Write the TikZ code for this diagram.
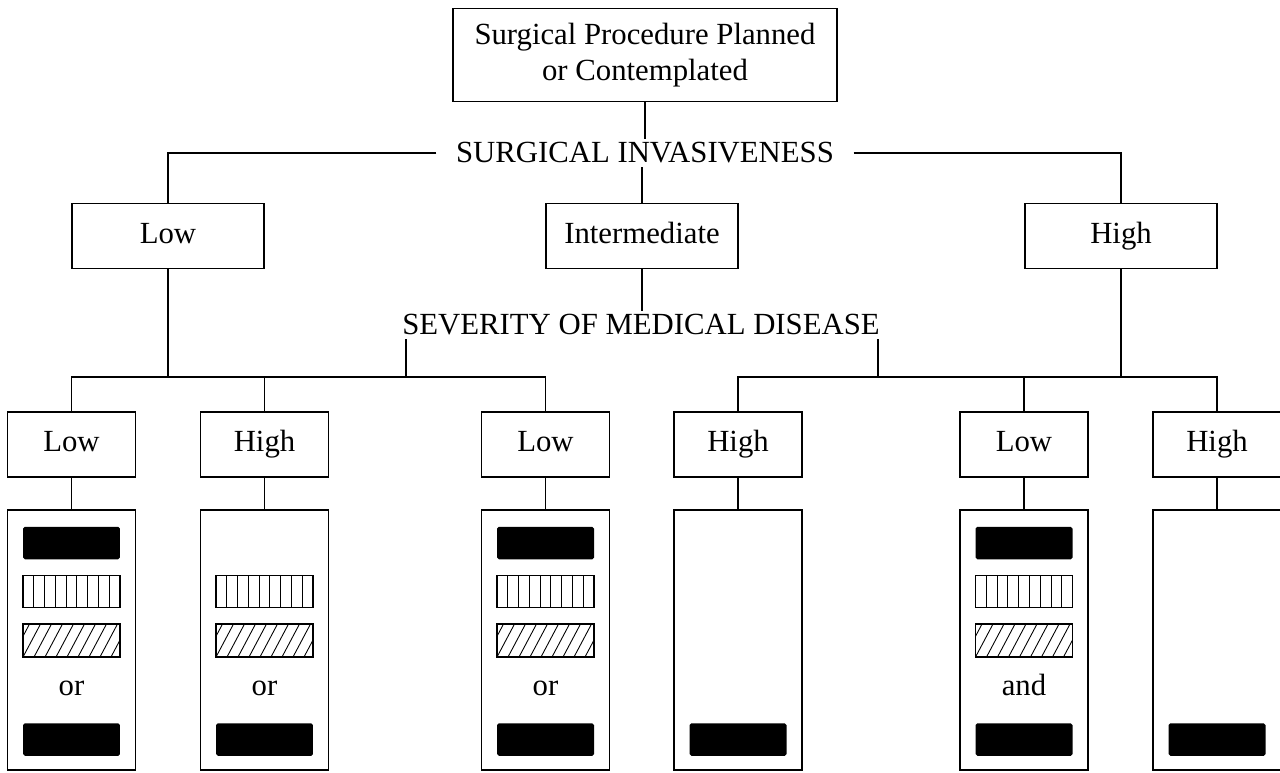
\documentclass[tikz,border=0pt]{standalone}
\usepackage{fontspec}
\setmainfont{Liberation Serif}
\usetikzlibrary{positioning}

\tikzset{
  box/.style={draw, line width=0.8pt, inner sep=0pt, text height=12pt, text depth=3.5pt, minimum width=3.84cm, minimum height=1.3cm},
  smallbox/.style={box, minimum width=2.56cm},
  stack/.style={smallbox, minimum height=5.2cm},
  blk/.style={fill=black, rounded corners=1pt, inner sep=0pt, minimum width=1.94cm, minimum height=0.65cm},
  stripes/.style={draw, line width=0.6pt, inner sep=0pt, minimum width=1.94cm, minimum height=0.63cm,
    path picture={\foreach \k in {1,...,8}
      \draw[line width=0.5pt] ([xshift=\k*0.2156cm]path picture bounding box.south west) -- ++(0pt,0.7cm);}},
  hatch/.style={draw, line width=0.6pt, inner sep=0pt, minimum width=1.94cm, minimum height=0.66cm,
    path picture={\foreach \k in {-2,...,9}
      \draw[line width=0.5pt] ([xshift=\k*0.22cm]path picture bounding box.south west) -- ++(0.35cm,0.66cm);}},
  heading/.style={inner ysep=2pt, inner xsep=11pt},
  word/.style={text height=12pt, text depth=3.5pt, inner sep=0pt}
}

\begin{document}
\begin{tikzpicture}[x=0.02cm, y=-0.02cm, font=\fontsize{17.5}{20.5}\selectfont]
	\useasboundingbox (0,0) rectangle (1280,772);
	% top and first split
	\node[box, minimum width=7.68cm, minimum height=1.86cm, align=center, text height=, text depth=] (top) at (645,55) {Surgical Procedure Planned\\or Contemplated};
	\node[heading] (inv) at (645,153) {SURGICAL INVASIVENESS};
	\node[box] (lowA) at (168,236) {Low};
	\node[box] (inter) at (642,236) {Intermediate};
	\node[box] (highA) at (1121,236) {High};
	\node[heading] (sev) at (641,325) {SEVERITY OF MEDICAL DISEASE};
	\coordinate (jl) at (406,377);
	\coordinate (jr) at (878,377);
	% second split
	\foreach \cx/\n/\t in {71.5/1/Low, 264.5/2/High, 545.5/3/Low, 738/4/High, 1024/5/Low, 1217/6/High} {
		\node[smallbox] (b\n) at (\cx,444.5) {\t};
		\node[stack] (s\n) at (\cx,640) {};
		\draw[line width=0.8pt] (b\n.south) -- (s\n.north);
	}
	\draw[line width=0.8pt] (top.south) -- (inv.north);
	\draw[line width=0.8pt] (inv.west) -| (lowA.north);
	\draw[line width=0.8pt] (inv.east) -| (highA.north);
	\draw[line width=0.8pt] (inv.south -| inter.north) -- (inter.north);
	\draw[line width=0.8pt] (inter.south) -- (inter.south |- sev.north);
	\draw[line width=0.8pt] (jl |- sev.south) -- (jl);
	\draw[line width=0.8pt] (jr |- sev.south) -- (jr);
	\draw[line width=0.8pt] (lowA.south) -- (lowA.south |- jl);
	\draw[line width=0.8pt] (highA.south) -- (highA.south |- jr);
	\draw[line width=0.8pt] (b1.north) -- (b1.north |- jl) -- (b3.north |- jl) -- (b3.north);
	\draw[line width=0.8pt] (b2.north) -- (b2.north |- jl);
	\draw[line width=0.8pt] (b4.north) -- (b4.north |- jr) -- (b6.north |- jr) -- (b6.north);
	\draw[line width=0.8pt] (b5.north) -- (b5.north |- jr);
	% contents of the stacks
	\foreach \n in {1,3,5} \node[blk] (top\n) at (s\n.center |- 0,543) {};
	\foreach \n in {1,2,3,5} {
		\node[stripes] (str\n) at (s\n.center |- 0,591.5) {};
		\node[hatch] (hat\n) at (s\n.center |- 0,640.5) {};
	}
	\foreach \n/\w in {1/or, 2/or, 3/or, 5/and} \node[word] (w\n) at (s\n.center |- 0,688) {\w};
	\foreach \n in {1,...,6} \node[blk] (bot\n) at (s\n.center |- 0,739.5) {};
\end{tikzpicture}
\end{document}
